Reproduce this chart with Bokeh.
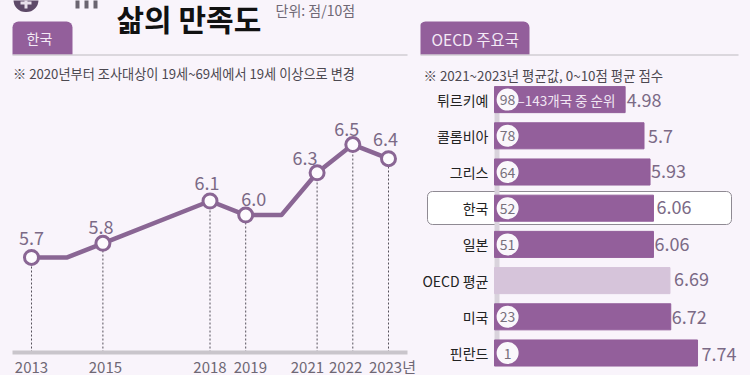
from bokeh.plotting import figure
from bokeh.models import Range1d, FixedTicker, Label, BoxAnnotation, ColumnDataSource
from bokeh.core.properties import value
from bokeh.embed import file_html
from bokeh.resources import INLINE

FONT = "Noto Sans CJK KR"
BG = "#f9f4fb"
PURPLE = "#935f9b"
LINE = "#8a6694"
GREY = "#6f6875"
VAL = "#7b6a86"

# Left panel data
years = [2013, 2014, 2015, 2018, 2019, 2020, 2021, 2022, 2023]
scores = [5.7, 5.7, 5.8, 6.1, 6.0, 6.0, 6.3, 6.5, 6.4]
marked_years = [2013, 2015, 2018, 2019, 2021, 2022, 2023]
marked_scores = [5.7, 5.8, 6.1, 6.0, 6.3, 6.5, 6.4]
marked_labels = ["5.7", "5.8", "6.1", "6.0", "6.3", "6.5", "6.4"]
year_labels = ["2013", "2015", "2018", "2019", "2021", "2022", "2023년"]

# Right panel data
countries = ["튀르키예", "콜롬비아", "그리스", "한국", "일본", "OECD 평균", "미국", "핀란드"]
sat = [4.98, 5.7, 5.93, 6.06, 6.06, 6.69, 6.72, 7.74]
sat_labels = ["4.98", "5.7", "5.93", "6.06", "6.06", "6.69", "6.72", "7.74"]
ranks = ["98", "78", "64", "52", "51", "", "23", "1"]

# Label nudges in pixels (style only)
line_dx = [0, -2, -3, 8, -12, -6, -3]
line_dy = [-19, -16, -18, -16, -15, -16, -20]
tick_shift = [0, 0.07, 0, 0.13, -0.27, -0.2, 0.11]
val_dx = [1.5, 4, 1, 3, 1, 4, 1, 4]
val_dy = [0, 0, -1, -1, 0, -2, 0, 1]
BASELINE = 5.026

def base(fig):
    fig.background_fill_color = BG
    fig.border_fill_color = BG
    fig.outline_line_color = None
    fig.grid.visible = False

def label(fig, x, y, text, size, color, style="normal", align="left", baseline="middle", font=FONT):
    fig.add_layout(Label(x=x, y=y, text=text, x_range_name="px", y_range_name="px",
                         text_font=font, text_font_size=f"{size}px", text_color=color,
                         text_font_style=style, text_align=align, text_baseline=baseline))

def box(fig, l, r, t, b, fill, radius=0, border=None, level="annotation", alpha=1.0):
    fig.add_layout(BoxAnnotation(left=l, right=r, top=t, bottom=b,
                                 left_units="data", right_units="data", top_units="data", bottom_units="data",
                                 x_range_name="px", y_range_name="px",
                                 fill_color=fill, fill_alpha=alpha, line_color=border, line_alpha=1.0 if border else 0,
                                 border_radius=radius, level=level, editable=False))

# ---------------- left
left = figure(width=420, height=375, output_backend="svg", toolbar_location=None,
              x_range=Range1d(2013 - 31 / 35.7, 2013 + 389 / 35.7),
              y_range=Range1d(5.7 - 118 / 141, 6.5 + 144 / 141),
              y_axis_location=None, min_border_left=0, min_border_right=0, min_border_top=0, min_border_bottom=0)
base(left)
left.extra_x_ranges["px"] = Range1d(0, 420)
left.extra_y_ranges["px"] = Range1d(375, 0)
ax = left.xaxis[0]
tick_pos = [y + s for y, s in zip(marked_years, tick_shift)]
ax.ticker = FixedTicker(ticks=tick_pos)
ax.major_label_overrides = dict(zip(tick_pos, year_labels))
ax.fixed_location = BASELINE
ax.axis_line_color = None
ax.major_tick_line_color = None
ax.minor_tick_line_color = None
ax.major_tick_out = 0
ax.major_tick_in = 0
ax.major_label_standoff = 3
ax.major_label_text_font = FONT
ax.major_label_text_font_size = "15px"
ax.major_label_text_color = GREY

left.segment(x0=marked_years, y0=[BASELINE] * len(marked_years), x1=marked_years, y1=marked_scores,
             line_color="#55505a", line_width=1, line_dash="2 2")
left.line(years, scores, line_color=LINE, line_width=4.5, line_join="round")
left.scatter(marked_years, marked_scores, size=14, fill_color="#fdfbfe", line_color=LINE, line_width=3)
left.text(x="x", y="y", text="t", x_offset="dx", y_offset="dy", text_align="center", text_baseline="middle",
          text_font=value(FONT), text_font_size="18px", text_color=VAL,
          source=ColumnDataSource(dict(x=marked_years, y=marked_scores, t=marked_labels, dx=line_dx, dy=line_dy)))

box(left, 12, 407, 350, 354, "#c9c5cb")
box(left, 12, 72, 21, 54, PURPLE, radius=(6, 6, 0, 0))
box(left, 12, 407, 54, 55, "#bdb9c0")
label(left, 26, 37, "한국", 14, "#f4eaf6")
label(left, 12.5, 73, "※ 2020년부터 조사대상이 19세~69세에서 19세 이상으로 변경", 13.2, "#4c4850")
label(left, 116, 17, "삶의 만족도", 30, "#111111", style="bold", baseline="alphabetic")
label(left, 275, 9, "단위: 점/10점", 14, GREY)
box(left, 13, 38, -14, 11.5, "#5e4a68", radius=12)
box(left, 24, 27, -1, 8, "#e8e0ea")
box(left, 20, 31, 1, 4, "#e8e0ea")
for bx in (75, 84, 93):
    box(left, bx, bx + 4, -5, 8, "#6b6570")

# ---------------- right
pos = [i + 0.5 for i in range(len(countries))]
right = figure(width=330, height=375, output_backend="svg", toolbar_location=None,
               x_range=Range1d(-74 / 26.23, 256 / 26.23), y_range=Range1d((375 - 81) / 36.2, -81 / 36.2),
               x_axis_location=None, min_border_left=0, min_border_right=0, min_border_top=0, min_border_bottom=0)
base(right)
right.extra_x_ranges["px"] = Range1d(420, 750)
right.extra_y_ranges["px"] = Range1d(375, 0)
ay = right.yaxis[0]
ay.fixed_location = 0
ay.ticker = FixedTicker(ticks=pos)
ay.major_label_overrides = dict(zip(pos, countries))
ay.axis_line_color = None
ay.major_tick_line_color = None
ay.minor_tick_line_color = None
ay.major_tick_out = 0
ay.major_tick_in = 0
ay.major_label_standoff = 6
ay.major_label_text_font = FONT
ay.major_label_text_font_size = "14px"
ay.major_label_text_color = "#222222"

box(right, 427, 731, 191, 224, "#ffffff", radius=5, border="#8f8a93", level="underlay")
box(right, 494, 499, 110, 342, "#d9d3dc", level="underlay")

colors = [("#d6c4da" if not r else PURPLE) for r in ranks]
src = ColumnDataSource(dict(c=pos, v=sat, t=sat_labels, col=colors, dx=val_dx, dy=val_dy))
right.hbar(y="c", left=0, right="v", height=0.72, color="col", source=src)
right.text(x="v", y="c", text="t", x_offset="dx", y_offset="dy", text_align="left", text_baseline="middle",
           text_font=value(FONT), text_font_size="18px", text_color=VAL, source=src)
rc = [c for c, r in zip(pos, ranks) if r]
rr = [r for r in ranks if r]
right.scatter([0.5] * len(rc), rc, size=22, fill_color="#faf7fb", line_color=None)
right.text([0.5] * len(rc), rc, text=rr, text_align="center", text_baseline="middle",
           text_font=value(FONT), text_font_size="14px", text_color="#77707c")

box(right, 419, 529, 21, 54, PURPLE, radius=(6, 6, 0, 0))
box(right, 419, 738, 54, 55, "#bdb9c0")
label(right, 431, 38, "OECD 주요국", 15.5, "#f4eaf6")
label(right, 423, 74, "※ 2021~2023년 평균값, 0~10점 평균 점수", 13.4, "#4c4850")
label(right, 517, 99, "–143개국 중 순위", 13.5, "#f1e6f3")

html = file_html([left, right], INLINE)
html = html.replace("</head>", f"<style>html,body{{margin:0;padding:0;background:{BG};overflow:hidden}}body{{display:flex}}</style></head>")
open("out.html", "w").write(html)
